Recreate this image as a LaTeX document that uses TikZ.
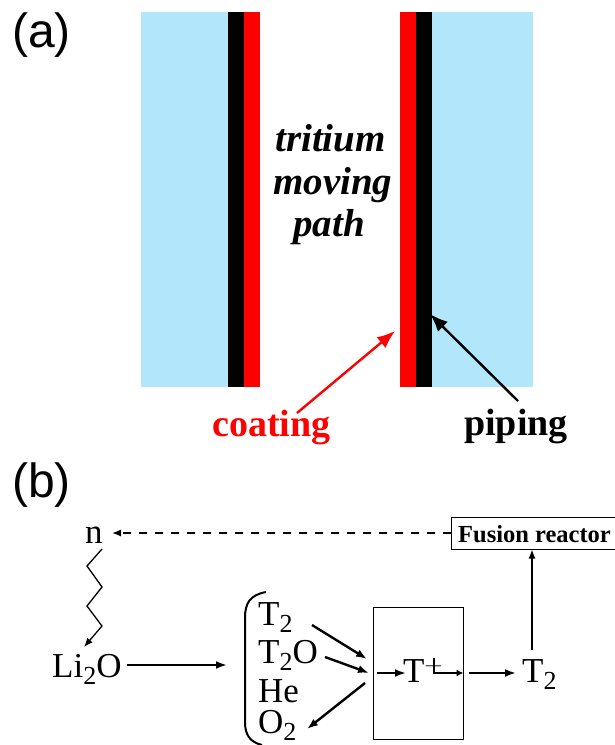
\documentclass[tikz,border=0pt]{standalone}
\usepackage{fontspec,tikz}
\usetikzlibrary{arrows.meta}
\setmainfont{Liberation Serif}
\newfontfamily\panelfont{Liberation Sans}
\definecolor{pipeblue}{RGB}{178,230,250}
\newcommand{\subtwo}{\raisebox{-0.2em}{\fontsize{26}{26}\selectfont 2}}
\tikzset{
  txt/.style={anchor=base west,inner sep=0pt},
  panel/.style={txt,font=\fontsize{48}{56}\selectfont\panelfont},
  chem/.style={txt,font=\fontsize{35}{42}\selectfont},
  path label/.style={txt,font=\fontsize{39}{46}\selectfont\bfseries\itshape},
  call label/.style={txt,font=\fontsize{38}{45}\selectfont\bfseries},
  flow/.style={line width=1.3pt,-{Latex[length=9pt,width=7pt]}},
  heavy flow/.style={line width=2.4pt,-{Latex[length=11pt,width=8pt]}},
  call/.style={line width=2.4pt,-{Latex[length=18pt,width=14pt]}},
}
\begin{document}
\begin{tikzpicture}[x=1pt,y=-1pt]
\path[use as bounding box] (0,0) rectangle (614.0,745.0);
% panel a
\node[panel] (labela) at (12,47) {(a)};
\fill[pipeblue] (141,12) rectangle (228,387);
\fill[black] (228,12) rectangle (244,387);
\fill[red] (244,12) rectangle (260,387);
\fill[red] (400,12) rectangle (416,387);
\fill[black] (416,12) rectangle (432,387);
\fill[pipeblue] (432,12) rectangle (533,387);
\node[path label] (tritium) at (275,151) {tritium};
\node[path label] (moving) at (273,194) {moving};
\node[path label] (pathword) at (293,236) {path};
\node[call label,text=red] (coating) at (212,436) {coating};
\node[call label] (piping) at (464,435) {piping};
\coordinate (coatingtip) at (395,331);
\coordinate (coatingend) at (297,413);
\coordinate (pipingtip) at (430,314);
\coordinate (pipingend) at (518,401);
\draw[call,red] (coatingend) -- (coatingtip);
\draw[call] (pipingend) -- (pipingtip);
% panel b
\node[panel] (labelb) at (12,497) {(b)};
\node[chem] (n) at (85,543) {n};
\node[chem] (lio) at (52,677) {Li\subtwo O};
\node[chem] (ttwo) at (258,625) {T\subtwo};
\node[chem] (ttwoo) at (258,663) {T\subtwo O};
\node[chem] (he) at (258,702) {He};
\node[chem] (otwo) at (258,733) {O\subtwo};
\node[chem] (tplus) at (403,682) {T$^{+}$};
\node[chem] (tout) at (522,682) {T\subtwo};
\node[draw,line width=1pt,minimum width=170pt,minimum height=32pt,inner sep=0pt] (reactor) at (536,533) {};
\node[txt,font=\fontsize{24.5}{29}\selectfont\bfseries] (reactortext) at (458,542) {Fusion reactor};
\node[draw,line width=1pt,minimum width=90pt,minimum height=132pt,inner sep=0pt] (chamber) at (418,673) {};
\draw[line width=2pt] (266,592) .. controls (250,595) and (245,603) .. (245,618) -- (245,722) .. controls (245,735) and (250,742) .. (262,745);
\coordinate (nzig) at (102,549);
\coordinate (liozig) at (84,647);
\coordinate (tstem) at (434,658);
\coordinate (tknee) at (434,673);
\draw[flow,dashed,dash pattern=on 8pt off 8pt] (reactor.west) -- (112,533);
\draw[flow] (nzig) -- (87,566) -- (102,587) -- (87,606) -- (102,626) -- (liozig);
\draw[heavy flow] (127,665) -- (227,665);
\draw[heavy flow] (312,625) -- (367,659);
\draw[heavy flow] (325,657) -- (369,673);
\draw[heavy flow] (365,683) -- (307,729);
\draw[heavy flow] (377,673) -- (406,673);
\draw[line width=1.8pt,-{Latex[length=7pt,width=7pt]}] (tstem) -- (tknee) -- (chamber.east |- tknee);
\draw[heavy flow] (469,673) -- (516,673);
\draw[flow] (532,650) -- (reactor.south -| 532,650);
\end{tikzpicture}
\end{document}
